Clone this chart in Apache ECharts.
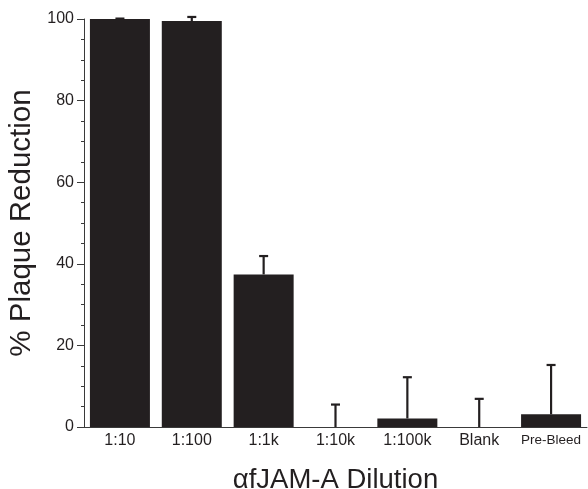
<!DOCTYPE html>
<html><head><meta charset="utf-8">
<script src="https://cdn.jsdelivr.net/npm/echarts@6/dist/echarts.min.js"></script>
<style>html,body{margin:0;padding:0;background:#fff}#c{width:588px;height:489px}</style>
</head><body><div id="c"></div>
<script>
var categories = ['1:10', '1:100', '1:1k', '1:10k', '1:100k', 'Blank', 'Pre-Bleed'];
var meanValues = [100, 99.5, 37.4, 0, 2.1, 0, 3.1];
var errorTops = [100.1, 100.5, 41.9, 5.5, 12.2, 6.9, 15.2];
var yTicks = [0, 20, 40, 60, 80, 100];

var font = '"Liberation Sans", Arial, sans-serif';
var axisColor = '#3a3a3a';
var barColor = '#231f20';

var chart = echarts.init(document.getElementById('c'));
chart.setOption({
  animation: false,
  grid: {left: 84, right: 1, top: 19, bottom: 62, containLabel: false, outerBoundsMode: 'none'},
  xAxis: {
    type: 'category',
    data: categories,
    name: 'αfJAM-A Dilution',
    nameLocation: 'middle',
    nameGap: 39,
    nameTextStyle: {fontFamily: font, fontSize: 27.5, color: '#231f20'},
    axisLine: {lineStyle: {color: axisColor, width: 1}},
    axisTick: {length: 6, lineStyle: {color: axisColor}},
    axisLabel: {
      interval: 0,
      fontFamily: font, fontSize: 16, color: '#231f20', margin: 6,
      formatter: function (v) { return v === 'Pre-Bleed' ? '{s|' + v + '}' : v; },
      rich: {s: {fontFamily: font, fontSize: 13.5, color: '#231f20'}}
    }
  },
  yAxis: {
    type: 'value',
    min: yTicks[0], max: yTicks[yTicks.length - 1], interval: 20,
    name: '% Plaque Reduction',
    nameLocation: 'middle',
    nameGap: 45,
    nameTextStyle: {fontFamily: font, fontSize: 29.5, color: '#231f20'},
    axisLine: {show: true, lineStyle: {color: axisColor, width: 1}},
    axisTick: {show: true, length: 7, lineStyle: {color: axisColor}},
    minorTick: {show: true, splitNumber: 4, length: 3, lineStyle: {color: axisColor}},
    splitLine: {show: false},
    axisLabel: {fontFamily: font, fontSize: 16, color: '#231f20', margin: 10}
  },
  series: [{
    type: 'bar',
    data: meanValues,
    barWidth: 60,
    itemStyle: {color: barColor},
    z: 2
  }, {
    type: 'custom',
    data: categories.map(function (c, i) { return [i, meanValues[i], errorTops[i]]; }),
    renderItem: function (params, api) {
      var x = api.value(0);
      var p0 = api.coord([x, api.value(1)]);
      var p1 = api.coord([x, api.value(2)]);
      var hw = 4.5;
      var st = {stroke: barColor, lineWidth: 2.2};
      return {
        type: 'group',
        children: [
          {type: 'line', shape: {x1: p0[0], y1: p0[1], x2: p1[0], y2: p1[1]}, style: st},
          {type: 'line', shape: {x1: p1[0] - hw, y1: p1[1], x2: p1[0] + hw, y2: p1[1]}, style: st}
        ]
      };
    },
    z: 3
  }]
});
</script></body></html>
